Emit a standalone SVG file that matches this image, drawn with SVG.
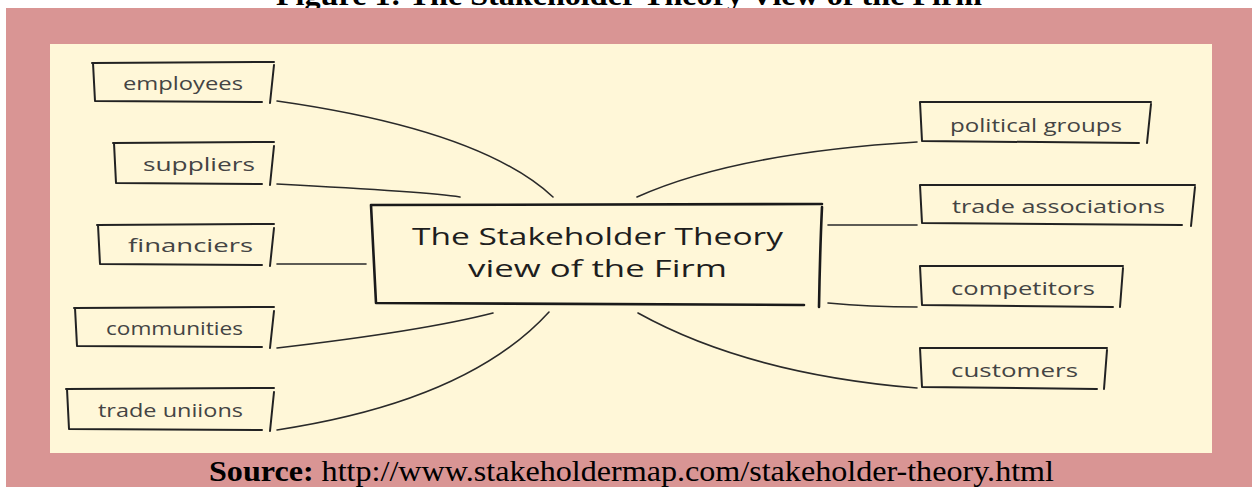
<svg xmlns="http://www.w3.org/2000/svg" width="1252" height="487" viewBox="0 0 1252 487">
<style>
.bx{fill:none;stroke:#222;stroke-width:2;stroke-linecap:round;stroke-linejoin:round}
.cbx{fill:none;stroke:#1a1a1a;stroke-width:2.6;stroke-linecap:round}
.cn{fill:none;stroke:#2a2a2a;stroke-width:1.6;stroke-linecap:round}
.lbl{font-family:"Open Sans","Liberation Sans",sans-serif;font-size:18px;fill:#444}
.ctr{font-family:"Open Sans","Liberation Sans",sans-serif;font-size:23px;fill:#1e1e1e}
.cap{font-family:"Liberation Serif","Times New Roman",serif;font-size:30px;fill:#000}
</style>
<rect x="0" y="0" width="1252" height="487" fill="#ffffff"/>
<text class="cap" x="276" y="5" font-weight="bold" textLength="706" lengthAdjust="spacingAndGlyphs">Figure 1: The Stakeholder Theory View of the Firm</text>
<rect x="6" y="8" width="1246" height="479" fill="#D99594"/>
<rect x="50" y="44" width="1162" height="409" fill="#FFF7D8"/>

<g id="connectors">
<path class="cn" d="M277,101 Q481,130 553,197"/>
<path class="cn" d="M277,184 Q430,192 460,197"/>
<path class="cn" d="M277,264 L366,264"/>
<path class="cn" d="M277,348 Q423,331 493,313"/>
<path class="cn" d="M277,430 Q468,401 549,312"/>
<path class="cn" d="M637,197 Q735,153 917,142"/>
<path class="cn" d="M828,225 L917,225"/>
<path class="cn" d="M828,303 Q870,307 917,307"/>
<path class="cn" d="M638,313 Q748,374 917,388"/>
</g>

<g id="center">
<path class="cbx" d="M371,205 L822,204 M371,205 L376,303 M376,303 L804,305 M822,207 Q820,250 819,307"/>
<text class="ctr" x="412" y="245" textLength="371" lengthAdjust="spacingAndGlyphs">The Stakeholder Theory</text>
<text class="ctr" x="468" y="277" textLength="259" lengthAdjust="spacingAndGlyphs">view of the Firm</text>
</g>

<g id="employees">
<path class="bx" d="M92,63 L274,62 M93,63 L95,101 M95,101 L262,102 M274,65 L270,103"/>
<text class="lbl" x="123" y="90" textLength="120" lengthAdjust="spacingAndGlyphs">employees</text>
</g>
<g id="suppliers">
<path class="bx" d="M113,143 L274,142 M114,143 L116,183 M116,183 L262,184 M274,146 L270,185"/>
<text class="lbl" x="143" y="171" textLength="112" lengthAdjust="spacingAndGlyphs">suppliers</text>
</g>
<g id="financiers">
<path class="bx" d="M97,225 L274,224 M98,225 L100,264 M100,264 L262,265 M274,228 L270,266"/>
<text class="lbl" x="128" y="252" textLength="125" lengthAdjust="spacingAndGlyphs">financiers</text>
</g>
<g id="communities">
<path class="bx" d="M74,308 L274,307 M75,308 L77,346 M77,346 L262,347 M274,311 L270,348"/>
<text class="lbl" x="106" y="335" textLength="137" lengthAdjust="spacingAndGlyphs">communities</text>
</g>
<g id="trade-unions">
<path class="bx" d="M66,389 L274,388 M67,389 L69,429 M69,429 L262,430 M274,392 L270,431"/>
<text class="lbl" x="98" y="417" textLength="145" lengthAdjust="spacingAndGlyphs">trade uniions</text>
</g>

<g id="political-groups">
<path class="bx" d="M920,102 L1151,102 M920,102 L922,141 M922,141 L1139,143 M1151,104 L1147,143"/>
<text class="lbl" x="950" y="132" textLength="172" lengthAdjust="spacingAndGlyphs">political groups</text>
</g>
<g id="trade-associations">
<path class="bx" d="M920,185 L1195,185 M920,185 L922,223 M922,223 L1182,225 M1195,187 L1191,226"/>
<text class="lbl" x="952" y="213" textLength="213" lengthAdjust="spacingAndGlyphs">trade associations</text>
</g>
<g id="competitors">
<path class="bx" d="M920,266 L1123,266 M920,266 L922,305 M922,305 L1113,307 M1123,268 L1120,307"/>
<text class="lbl" x="951" y="295" textLength="144" lengthAdjust="spacingAndGlyphs">competitors</text>
</g>
<g id="customers">
<path class="bx" d="M920,348 L1107,348 M920,348 L922,387 M922,387 L1097,389 M1107,350 L1104,389"/>
<text class="lbl" x="951" y="377" textLength="127" lengthAdjust="spacingAndGlyphs">customers</text>
</g>

<text class="cap" x="209" y="481" textLength="845" lengthAdjust="spacingAndGlyphs"><tspan font-weight="bold">Source:</tspan> http://www.stakeholdermap.com/stakeholder-theory.html</text>
</svg>
